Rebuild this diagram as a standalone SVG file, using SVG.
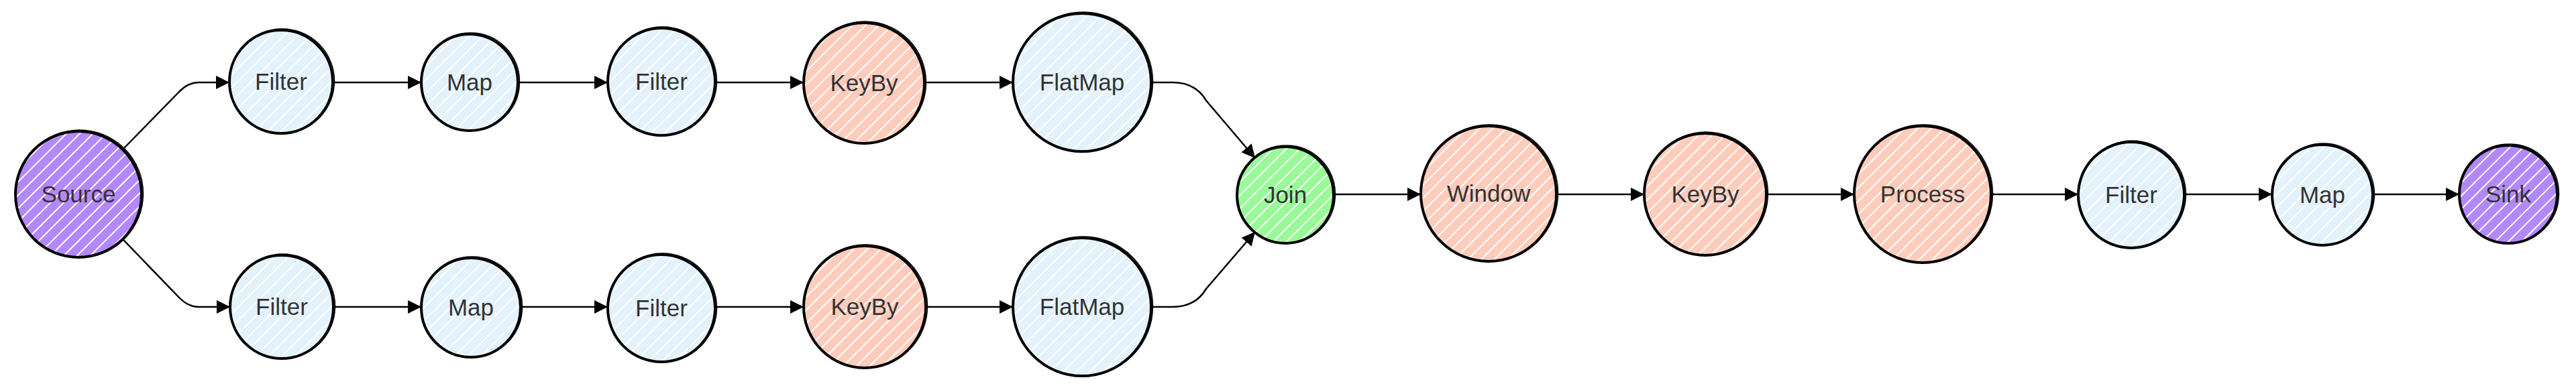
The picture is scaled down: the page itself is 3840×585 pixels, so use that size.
<svg xmlns="http://www.w3.org/2000/svg" width="3840" height="585" viewBox="0 0 3840 585">
<style>
.n{stroke:#000;stroke-width:4}
.sk{fill:none;stroke:#000;stroke-width:1.5}
.t{font-family:"Liberation Sans",Arial,Helvetica,sans-serif;font-size:35px;fill:#333;text-anchor:middle}
.e{fill:none;stroke:#000;stroke-width:2.5;marker-end:url(#ah)}
.blue{fill:url(#hBlue)}
.sal{fill:url(#hSal)}
.pur{fill:url(#hPur)}
.grn{fill:url(#hGrn)}
</style>
<defs>
<marker id="ah" markerUnits="userSpaceOnUse" markerWidth="20" markerHeight="20" refX="20" refY="10" orient="auto"><path d="M0,0 L20,10 L0,20 z" fill="#000"/></marker>
<pattern id="hBlue" width="14" height="14" patternUnits="userSpaceOnUse" patternTransform="rotate(45)"><rect width="14" height="14" fill="#E3F2FD"/><line x1="1" y1="0" x2="1" y2="14" stroke="#fff" stroke-width="2"/></pattern>
<pattern id="hSal" width="14" height="14" patternUnits="userSpaceOnUse" patternTransform="rotate(45)"><rect width="14" height="14" fill="#FFCCBC"/><line x1="1" y1="0" x2="1" y2="14" stroke="#fff" stroke-width="2"/></pattern>
<pattern id="hPur" width="14" height="14" patternUnits="userSpaceOnUse" patternTransform="rotate(45)"><rect width="14" height="14" fill="#B388FF"/><line x1="1" y1="0" x2="1" y2="14" stroke="#fff" stroke-width="2"/></pattern>
<pattern id="hGrn" width="14" height="14" patternUnits="userSpaceOnUse" patternTransform="rotate(45)"><rect width="14" height="14" fill="#98FB98"/><line x1="1" y1="0" x2="1" y2="14" stroke="#fff" stroke-width="2"/></pattern>
</defs>
<rect width="3840" height="585" fill="#fff"/>
<g id="connectors">
<path class="e" d="M184,222 L266,138 Q280,123 296,123 L342,123"/>
<path class="e" d="M184,358 L266,443 Q280,458 296,458 L343,458"/>
<path class="e" d="M497,123 L628,123"/>
<path class="e" d="M772,123 L906,123"/>
<path class="e" d="M1066,123 L1198,123"/>
<path class="e" d="M1378,123 L1510,123"/>
<path class="e" d="M497,458 L628,458"/>
<path class="e" d="M776,458 L906,458"/>
<path class="e" d="M1066,458 L1198,458"/>
<path class="e" d="M1380,458 L1510,458"/>
<path class="e" d="M1716,123 L1748,123 Q1782,123 1798,150 L1871,236"/>
<path class="e" d="M1716,458 L1748,458 Q1782,458 1798,431 L1871,346"/>
<path class="e" d="M1988,290 L2118,290"/>
<path class="e" d="M2320,290 L2451,290"/>
<path class="e" d="M2633,290 L2764,290"/>
<path class="e" d="M2968,290 L3098,290"/>
<path class="e" d="M3256,290 L3387,290"/>
<path class="e" d="M3537,290 L3666,290"/>
</g>
<g id="source"><circle class="n pur" cx="117" cy="290" r="94"/><circle class="sk" cx="118.5" cy="289" r="95"/><text class="t" x="117" y="302">Source</text></g>
<g id="filter-top-1"><circle class="n blue" cx="419" cy="122" r="77"/><circle class="sk" cx="420.5" cy="121" r="78"/><text class="t" x="419" y="134">Filter</text></g>
<g id="map-top"><circle class="n blue" cx="700" cy="123" r="72"/><circle class="sk" cx="701.5" cy="122" r="73"/><text class="t" x="700" y="135">Map</text></g>
<g id="filter-top-2"><circle class="n blue" cx="986" cy="122" r="80"/><circle class="sk" cx="987.5" cy="121" r="81"/><text class="t" x="986" y="134">Filter</text></g>
<g id="keyby-top"><circle class="n sal" cx="1288" cy="124" r="90"/><circle class="sk" cx="1289.5" cy="123" r="91"/><text class="t" x="1288" y="136">KeyBy</text></g>
<g id="flatmap-top"><circle class="n blue" cx="1613" cy="123" r="103"/><circle class="sk" cx="1614.5" cy="122" r="104"/><text class="t" x="1613" y="135">FlatMap</text></g>
<g id="filter-bot-1"><circle class="n blue" cx="420" cy="458" r="77"/><circle class="sk" cx="421.5" cy="457" r="78"/><text class="t" x="420" y="470">Filter</text></g>
<g id="map-bot"><circle class="n blue" cx="702" cy="459" r="74"/><circle class="sk" cx="703.5" cy="458" r="75"/><text class="t" x="702" y="471">Map</text></g>
<g id="filter-bot-2"><circle class="n blue" cx="986" cy="460" r="80"/><circle class="sk" cx="987.5" cy="459" r="81"/><text class="t" x="986" y="472">Filter</text></g>
<g id="keyby-bot"><circle class="n sal" cx="1289" cy="458" r="91"/><circle class="sk" cx="1290.5" cy="457" r="92"/><text class="t" x="1289" y="470">KeyBy</text></g>
<g id="flatmap-bot"><circle class="n blue" cx="1613" cy="458" r="103"/><circle class="sk" cx="1614.5" cy="457" r="104"/><text class="t" x="1613" y="470">FlatMap</text></g>
<g id="join"><circle class="n grn" cx="1916" cy="291" r="72"/><circle class="sk" cx="1917.5" cy="290" r="73"/><text class="t" x="1916" y="303">Join</text></g>
<g id="window"><circle class="n sal" cx="2219" cy="289" r="101"/><circle class="sk" cx="2220.5" cy="288" r="102"/><text class="t" x="2219" y="301">Window</text></g>
<g id="keyby-mid"><circle class="n sal" cx="2542" cy="290" r="91"/><circle class="sk" cx="2543.5" cy="289" r="92"/><text class="t" x="2542" y="302">KeyBy</text></g>
<g id="process"><circle class="n sal" cx="2866" cy="290" r="102"/><circle class="sk" cx="2867.5" cy="289" r="103"/><text class="t" x="2866" y="302">Process</text></g>
<g id="filter-mid"><circle class="n blue" cx="3177" cy="291" r="79"/><circle class="sk" cx="3178.5" cy="290" r="80"/><text class="t" x="3177" y="303">Filter</text></g>
<g id="map-mid"><circle class="n blue" cx="3462" cy="291" r="75"/><circle class="sk" cx="3463.5" cy="290" r="76"/><text class="t" x="3462" y="303">Map</text></g>
<g id="sink"><circle class="n pur" cx="3739" cy="290" r="73"/><circle class="sk" cx="3740.5" cy="289" r="74"/><text class="t" x="3739" y="302">Sink</text></g>
</svg>
